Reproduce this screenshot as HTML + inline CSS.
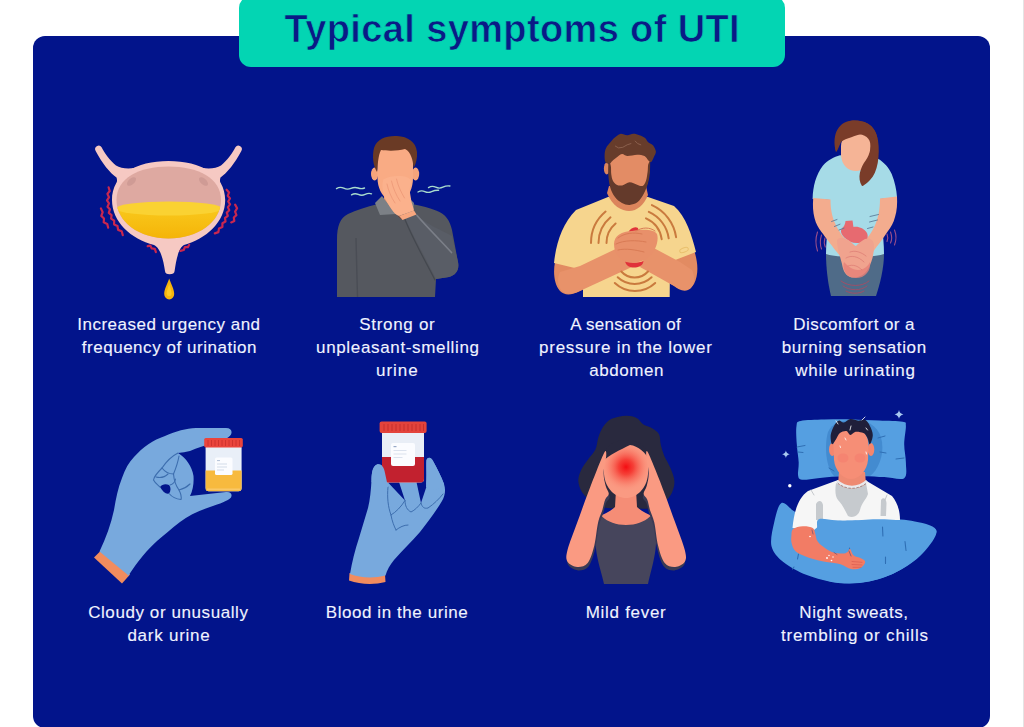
<!DOCTYPE html>
<html>
<head>
<meta charset="utf-8">
<title>Typical symptoms of UTI</title>
<style>
  html, body { margin: 0; padding: 0; }
  body {
    width: 1024px; height: 727px; overflow: hidden; position: relative;
    background: #ffffff;
    font-family: "Liberation Sans", sans-serif;
  }
  .edge { position: absolute; left: 1022.6px; top: 0; width: 1.4px; height: 727px; background: #e4e4e4; }
  .panel {
    position: absolute; left: 33.3px; top: 35.5px; width: 956.5px; height: 692.5px;
    background: #02148b; border-radius: 12px;
  }
  .banner {
    position: absolute; left: 238.5px; top: -4px; width: 546.5px; height: 71px;
    background: #03d5b3; border-radius: 12px;
  }
  .title {
    position: absolute; left: 238px; top: 7px; width: 547px; text-align: center;
    font-weight: bold; font-size: 38px; line-height: 44px; color: #0a1a86;
    -webkit-text-stroke: 0.7px #03d5b3;
    white-space: nowrap;
  }
  .title span { display: inline-block; transform-origin: 50% 50%; }
  .cap {
    position: absolute; width: 230px; text-align: center; color: #f0f3ff;
    font-size: 17px; line-height: 23px; white-space: nowrap;
    -webkit-text-stroke: 0.12px #f0f3ff;
  }
  .cap span { display: inline-block; }
  svg.art { position: absolute; left: 0; top: 0; }
</style>
</head>
<body>
<div class="edge"></div>
<div class="panel"></div>
<div class="banner"></div>
<div class="title"><span id="ttl" style="letter-spacing:0.375px;margin-right:-0.375px;position:relative;left:0.55px">Typical symptoms of UTI</span></div>

<!-- ART -->
<svg class="art" width="1024" height="727" viewBox="0 0 1024 727">

<!-- ===== 1. Bladder ===== -->
<g id="bladder">
  <defs>
    <clipPath id="bl-in"><path d="M116.500,200 C116.500,178 139,166.500 168.500,166.500 C198,166.500 221,178 221,200 C221,222 198,238.500 168.500,238.500 C139,238.500 116.500,222 116.500,200 Z"/></clipPath>
    <linearGradient id="bl-ur" x1="0" y1="0" x2="0" y2="1"><stop offset="0" stop-color="#f9c81c"/><stop offset="1" stop-color="#f3ae02"/></linearGradient>
  </defs>
  <!-- ureters -->
  <path d="M101.600,147.300 C104,152 110,161 116,165.500 C122,169 132,170 142,165.500 L150,180 L113.500,193 C116,186 118,181 116.500,177.500 C110,173 102,163 95.800,151.200 A3.300,3.300 0 0 1 101.600,147.300 Z" fill="#f6c9c3"/>
  <path d="M235.400,147.300 C233,152 227,161 221,165.500 C215,169 205,170 195,165.500 L187,180 L223.500,193 C221,186 219,181 220.500,177.500 C227,173 235,163 241.200,151.200 A3.300,3.300 0 0 0 235.400,147.300 Z" fill="#f6c9c3"/>
  <!-- body -->
  <path d="M112,200 C112,175 136,161 168.500,161 C201,161 225.200,175 225.200,200 C225.200,222 206,239 184,245 C178,248 176,262 174.600,271 Q174.300,274.200 169.600,274.200 Q165.200,274.200 165,271 C163.600,262 161,248 154,245 C131,239 112,222 112,200 Z" fill="#f6c9c3"/>
  <path d="M116.500,200 C116.500,178 139,166.500 168.500,166.500 C198,166.500 221,178 221,200 C221,222 198,238.500 168.500,238.500 C139,238.500 116.500,222 116.500,200 Z" fill="#dea9a1"/>
  <ellipse cx="131.500" cy="181.500" rx="5.500" ry="2.900" fill="#cf9b95" transform="rotate(-42 131.500 181.500)"/>
  <ellipse cx="203.500" cy="181.500" rx="5.500" ry="2.900" fill="#cf9b95" transform="rotate(42 203.500 181.500)"/>
  <g clip-path="url(#bl-in)">
    <rect x="110" y="208" width="120" height="40" fill="url(#bl-ur)"/>
    <ellipse cx="169" cy="208.500" rx="53" ry="7" fill="#fad232"/>
  </g>
  <!-- drop -->
  <path d="M169.200,278.500 C171,284 174.200,289 174.200,294 A5,5.400 0 0 1 164.200,294 C164.200,289 167.400,284 169.200,278.500 Z" fill="#f6b40c"/>
  <path d="M169.200,284 C170,287 171.600,291 171.600,294 A2.600,3 0 0 1 166.600,294 C166.600,291 168.400,287 169.200,284 Z" fill="#ffcf2a" opacity=".8"/>
  <!-- squiggles -->
  <g fill="none" stroke="#c9274f" stroke-width="2.200" stroke-linecap="round" stroke-linejoin="round">
    <path d="M108.6,187.3 L109.7,191.0 L107.4,193.9 L109.0,197.3 L107.0,200.4 L109.0,203.4 L107.5,206.7 L109.9,209.3 L108.8,212.8 L111.6,215.1 L111.1,218.7 L114.2,220.7 L114.1,224.4 L117.5,226.0 L118.1,229.9 L121.7,231.3 L122.8,235.2"/>
    <path d="M100.9,208.4 L102.7,212.2 L101.3,215.9 L104.0,218.5 L103.7,222.3 L107.2,223.9 L108.2,227.7"/>
    <path d="M226.6,189.7 L229.1,192.4 L227.8,195.7 L230.0,198.5 L228.2,201.5 L230.1,204.4 L227.9,207.1 L229.3,210.3 L226.8,212.6 L227.8,215.9 L225.0,218.0 L225.5,221.5 L222.4,223.2 L222.4,226.9 L219.0,228.4 L218.4,232.1 L214.8,233.4"/>
    <path d="M235.1,204.6 L237.1,208.2 L235.1,211.6 L236.4,215.1 L233.8,217.5 L234.3,221.0 L231.2,222.4"/>
    <path d="M147.7,246.2 L150.4,245.7 L151.7,248.4 L154.8,248.8 L155.9,252.1"/>
    <path d="M189.2,244.8 L187.9,247.1 L184.9,247.1 L183.7,250.0 L180.4,250.9"/>
  </g>
</g>

<!-- ===== 2. Man covering nose ===== -->
<g id="smell">
  <!-- sweater body -->
  <path d="M337,297 L337,240 C337,226 340,218 348,214 C356,210 366,207 378,204 L412,204 C422,206 430,208 436,210.5 C446,214 450,221 452,230 L458,262 C459.5,270 456,275 449,277 L436,279 L435,297 Z" fill="#55585f"/>
  <!-- arm shading -->
  <path d="M404,216 C414,238 428,262 436,279 L449,277 C456,275 459.5,270 458,262 L452,236 C446,232 420,222 416,213 Z" fill="#595d66"/>
  <path d="M417,215.500 C427,227 441,241 451.500,252.500" fill="none" stroke="#7b7f88" stroke-width="1.700" stroke-linecap="round"/>
  <path d="M404,217 C412,238 426,262 435,280" fill="none" stroke="#44484f" stroke-width="1.2" stroke-linecap="round"/>
  <path d="M356,238 C356.500,258 357,280 357.500,297" fill="none" stroke="#4a4d55" stroke-width="1.400"/>
  <!-- neck -->
  <path d="M384,192 L406,192 L408,212 L384,212 Z" fill="#ee9a70"/>
  <!-- collar -->
  <path d="M375,203 L382,196 L396,214 L380,215 Z" fill="#7c8086"/>
  <path d="M414,203 L408,197 L399,214 L413,213 Z" fill="#7c8086"/>
  <!-- ears -->
  <ellipse cx="374.6" cy="174" rx="3.6" ry="6.4" fill="#f6a47c"/>
  <ellipse cx="415.6" cy="174" rx="3.6" ry="6.4" fill="#f6a47c"/>
  <!-- face -->
  <path d="M377,156 C377,146 385,143 395,143 C405,143 413,146 413,156 L413,178 C413,188 409,196 404,200 L387,200 C382,195 377.500,188 377.500,178 Z" fill="#f9ab84"/>
  <!-- hair -->
  <path d="M377,172 C373,166 372,156 374,148 C377,139 386,135.5 397,136 C408,136.5 416,142 417,152 C417.5,158 416,164 413.5,168 C413,160 411,152 405,149 C398,151 388,151 381,150 C378,156 378,164 377,172 Z" fill="#6a3a25"/>
  <!-- hand -->
  <path d="M383.300,179.500 C388,176.500 395,175.500 401,176 C406,176.500 410,178 411.500,181 C411,184 409.700,187 409.700,190 C410,194 411,198 411.500,202 C412.500,205 413.500,208 414,210.500 L399,216 C396,215 394,213 392,210 C388.500,205 385.500,200 384,195.500 C382.500,190 381.800,184 383.300,179.500 Z" fill="#fbb18c"/>
  <path d="M399,216 L414,210.500 L416.500,214.500 L402.500,220 Z" fill="#f8a77f"/>
  <path d="M398.500,216.200 L401,218.800" stroke="#7a3a2a" stroke-width="1" stroke-linecap="round" fill="none" opacity=".7"/>
  <g fill="none" stroke="#f09d7b" stroke-width="1" stroke-linecap="round">
    <path d="M387,184 C388.500,191 391,197 395,203"/>
    <path d="M391.500,181 C393,188 396,195 400,201"/>
    <path d="M396.500,179 C398,186 401,192 404.500,198"/>
  </g>
  <!-- smell lines -->
  <g fill="none" stroke="#a9dccd" stroke-width="1.4" stroke-linecap="round">
    <path d="M336.500,188.600 q3.600,-2.200 7.200,-0.400 t7.200,0.200 t7.200,-0.400 t6.400,0"/>
    <path d="M351.500,194.800 q3.400,-2 6.800,-0.400 t6.800,0 t6.400,-0.600"/>
    <path d="M418,192 q3.400,-2 6.800,-0.400 t6.800,0 t7,-1.400"/>
    <path d="M428.500,187.600 q3.600,-2.200 7.200,-0.400 t7.200,0 t7,-1.200"/>
  </g>
</g>

<!-- ===== 3. Bearded man, lower abdomen pressure ===== -->
<g id="pressure">
  <!-- arms behind shirt -->
  <path d="M555,262 C553,272 554,284 560,291 C565,296 572,295 580,291 L632,266 L622,244 L584,262 L583,268 Z" fill="#e28b62"/>
  <path d="M694,250 C698,262 699,274 694,284 C690,291 682,291 676,287 L640,266 L650,244 L676,258 Z" fill="#e28b62"/>
  <!-- shirt -->
  <path d="M583,297 L583,270 L554,263 C556,244 562,224 576,210 L608,197 L648,197 L674,206 C686,216 692,236 696,252 L670,262 L669.7,297 Z" fill="#f6d58e"/>
  <!-- neck -->
  <path d="M607,193 C612,206 622,211 629,211 C637,211 644,205 648,195 L646,186 L609,186 Z" fill="#dc855c"/>
  <!-- forearms front -->
  <path d="M560,272 C556,280 558,290 565,293 C570,295 576,293 582,290 L634,266 L624,245 L580,266 Z" fill="#e8926a"/>
  <path d="M692,270 C696,278 694,288 688,290 C683,292 678,289 674,286 L640,267 L650,246 L680,262 Z" fill="#e8926a"/>
  <!-- red spots -->
  <path d="M628,233 C630,228 635,226 638,228 C639,231 636,234 633,236 Z" fill="#e0323a"/>
  <path d="M625,261 C630,263 638,263 643.500,261 C643,266 638,267.500 634,267.500 C630,267.500 626,266 625,261 Z" fill="#e0323a"/>
  <!-- hands -->
  <path d="M614,244 C614,236 622,231 632,231 C642,229 654,229 657,234 C659,240 656,250 650,256 C644,262 634,264 626,262 C618,259 614,252 614,244 Z" fill="#e8906a"/>
  <path d="M618,238 C624,233 634,232 642,234 M616,244 C624,240 636,240 646,242 M618,250 C626,248 636,250 644,252 M636,231 C642,227 650,227 655,231" fill="none" stroke="#d97b55" stroke-width="1" stroke-linecap="round"/>
  <!-- arcs -->
  <g fill="none" stroke="#c97a3e" stroke-width="2" stroke-linecap="round">
    <path d="M606.5,243.0 A25.5,25.5 0 0 1 615.6,223.5"/>
    <path d="M598.5,243.0 A33.5,33.5 0 0 1 610.5,217.3"/>
    <path d="M591.0,243.0 A41,41 0 0 1 605.6,211.6"/>
    <path d="M646.0,218.3 A27,27 0 0 1 661.7,239.2"/>
    <path d="M648.8,211.9 A34,34 0 0 1 668.7,238.3"/>
    <path d="M651.9,205.1 A41.5,41.5 0 0 1 676.1,237.2"/>
    <path d="M621.3,271.5 A17.9,17.9 0 0 0 648.0,271.5"/>
    <path d="M617.7,277.3 A24.8,24.8 0 0 0 651.6,277.3"/>
    <path d="M614.8,283.0 A29.5,29.5 0 0 0 655.2,283.0"/>
  </g>
  <!-- ear -->
  <ellipse cx="606.700" cy="168.500" rx="2.800" ry="6" fill="#dc855e"/>
  <!-- face -->
  <path d="M611.1,162.2 C611.3,158.5 611.3,156.7 612.9,155.3 C614.6,153.9 618.0,153.8 621.0,153.7 C624.0,153.6 627.4,154.6 630.9,154.7 C634.4,154.9 639.1,154.1 642.0,154.7 C644.9,155.3 647.0,156.4 648.2,158.4 C649.4,160.5 649.1,164.0 648.9,167.1 C648.8,170.2 648.2,173.7 647.6,177.0 C646.9,180.3 646.4,184.9 645.1,186.9 C643.8,189.0 642.1,189.4 639.5,189.4 C637.0,189.4 632.9,186.9 629.6,186.9 C626.3,186.9 622.3,189.6 619.7,189.4 C617.1,189.2 615.5,187.7 614.1,185.7 C612.8,183.6 612.2,180.9 611.7,177.0 C611.2,173.1 610.8,165.8 611.1,162.2 Z" fill="#e38c65" stroke="#e38c65" stroke-width="2"/>
  <!-- beard -->
  <path d="M608.6,162.2 C609.0,160.7 610.4,163.8 610.8,165.9 C611.3,167.9 610.9,172.1 611.3,174.5 C611.7,177.0 612.0,179.0 612.9,180.7 C613.8,182.4 615.1,183.9 616.6,184.7 C618.2,185.5 620.0,185.8 622.2,185.4 C624.4,185.0 627.2,182.3 629.6,182.2 C632.1,182.1 634.9,184.1 637.1,184.7 C639.2,185.3 641.1,186.6 642.6,185.9 C644.1,185.3 645.1,183.0 646.0,180.7 C646.8,178.4 647.2,174.7 647.6,172.1 C648.0,169.4 647.8,166.3 648.2,164.6 C648.6,163.0 649.8,160.5 650.1,162.2 C650.3,163.8 650.1,170.8 649.7,174.5 C649.3,178.3 648.6,181.1 647.6,184.4 C646.6,187.7 645.1,191.4 643.5,194.3 C641.8,197.3 640.0,200.3 637.7,202.0 C635.4,203.8 632.2,204.7 629.6,204.9 C627.0,205.0 624.4,204.4 622.0,203.0 C619.5,201.7 616.7,199.5 614.8,196.8 C612.8,194.1 611.1,190.6 610.1,186.9 C609.0,183.2 608.6,178.7 608.3,174.5 C608.1,170.4 608.2,163.6 608.6,162.2 Z" fill="#643a2b"/>
  <!-- hair -->
  <path d="M605.5,162.2 C604.6,160.7 604.5,157.1 604.6,154.7 C604.7,152.3 605.1,150.0 606.1,147.9 C607.1,145.8 609.0,144.1 610.4,142.3 C611.9,140.6 613.1,138.8 614.8,137.4 C616.4,136.0 618.3,134.3 620.3,133.9 C622.4,133.5 625.0,135.2 627.2,135.2 C629.3,135.1 631.3,133.7 633.3,133.7 C635.4,133.7 637.6,134.4 639.5,135.2 C641.5,135.9 643.7,136.8 645.1,138.0 C646.6,139.2 646.9,141.1 648.2,142.3 C649.5,143.6 651.9,143.9 653.2,145.4 C654.4,147.0 655.8,149.7 655.9,151.6 C656.0,153.6 654.6,155.4 653.8,157.2 C653.0,159.0 651.9,161.6 650.9,162.2 C650.0,162.7 649.3,161.3 648.2,160.3 C647.1,159.3 646.3,156.9 644.5,156.0 C642.6,155.0 639.9,154.7 637.1,154.7 C634.2,154.7 629.6,156.1 627.2,156.0 C624.7,155.9 623.8,153.9 622.2,154.1 C620.5,154.3 618.9,155.8 617.2,157.0 C615.6,158.1 613.5,159.8 612.3,160.9 C611.1,162.0 610.9,163.2 609.8,163.4 C608.7,163.6 606.3,163.6 605.5,162.2 Z" fill="#673c2b"/>
  <path d="M615.4,146.1 L618.5,147.9 L622.8,147.3 L627.2,144.8 L630.9,143.6 M635.2,141.1 L637.7,143.6 L640.8,144.8" fill="none" stroke="#8f6350" stroke-width="0.900" stroke-linecap="round" stroke-linejoin="round"/>
  <!-- sleeve ring detail -->
  <ellipse cx="684" cy="250" rx="4.5" ry="2.2" fill="none" stroke="#e9c06f" stroke-width="1" transform="rotate(-20 684 250)"/>
</g>

<!-- ===== 4. Woman, discomfort ===== -->
<g id="burning">
  <!-- jeans -->
  <path d="M826,254 L884,254 C884,268 880,284 876,296 L831,296 C828,284 826,268 826,254 Z" fill="#4f6b88"/>
  <!-- hair back -->
  <path d="M836,152 C832,138 836,122 852,120.5 C868,119.5 877,128 878,142 C879,156 877,170 870,178 C866,183 863,186 862,186 C858,178 860,168 864,160 L868,140 L844,134 Z" fill="#7a3c29"/>
  <!-- neck -->
  <path d="M848,160 L864,160 L866,178 L846,178 Z" fill="#eba486"/>
  <!-- shirt -->
  <path d="M812.600,199 C813,186 816,175 823,165.600 C828,160 834,157 840,155.300 L878,158.800 C884,162 889,168 891.700,174 C895,182 896.500,190 897,197 L897,198 L880,199 C880,214 884,236 884,254 C874,258 836,258 826,254 C826,236 830,214 830,200 Z" fill="#a6dbe7"/>
  <!-- arms (front) -->
  <path d="M813.200,198 C812.600,206 813,212 814.500,218 C816,224 818.500,228 821.500,232 C826,238 832,246 840,256 L850,244 C846,240 843,237 841,234 C838,229 836,226 834.500,222 C832,216 830.500,209 830.500,199.500 Z" fill="#f3ac8e"/>
  <path d="M897,196.500 C897.400,204 897,211 895,217 C893.500,223 891,227 888,231 C884,237 879,244 872,253 L861,244 C865,240 867.500,238 869.500,235 C872,231 874,228 875.500,224 C878,218 880,210 880,198.500 Z" fill="#f3ac8e"/>
  <!-- bladder -->
  <path d="M845.500,221 L852.500,220.500 C853,223 853,225 853.500,227 C858,226 864,228 867,233 C869.500,239 865,243.500 857,243 C852,243 848,241 845,238 C842,235 840,232 841.500,229 C843,227 845,226 845.500,221 Z" fill="#e76a70"/>
  <!-- hands -->
  <path d="M837,240 C840,236 846,238 851,242 C853,244 855,246 856,246 C858,244 861,241 865,239 C870,237 874,240 874,246 C874,254 872,262 868,269 C864,276 856,279 850,277 C845,275 843,270 842,264 C840,256 837,248 837,240 Z" fill="#f0a38e"/>
  <path d="M844,262 C848,266 852,270 858,270 C864,270 868,266 870,262 C871,268 868,274 862,277 C856,279 848,278 845,272 C843,268 843,265 844,262 Z" fill="#e67f78" opacity=".8"/>
  <path d="M846,258 C851,255 858,256 864,262 M850,252 C855,250 861,252 866,256 M848,266 C853,264 858,266 862,270" fill="none" stroke="#d97670" stroke-width="0.800" stroke-linecap="round" opacity=".8"/>
  <!-- red arcs bottom -->
  <g fill="none" stroke="#b8465e" stroke-width="1" stroke-linecap="round" opacity=".75">
    <path d="M841,281 C849,287 862,287 869,281"/>
    <path d="M843,286 C850,291 861,291 867,286"/>
    <path d="M846,291 C851,294 859,294 864,291"/>
  </g>
  <!-- side pain arcs -->
  <g fill="none" stroke="#9a4f8a" stroke-width="1.100" stroke-linecap="round">
    <path d="M817.500,232 C815.500,238 815.500,245 817.500,251"/>
    <path d="M821.500,235 C820,240 820,245 821.500,249"/>
    <path d="M825,238 C824,241 824,244 825.300,247"/>
    <path d="M894.500,230 C896.500,235 896.500,240 894.500,245"/>
    <path d="M890.500,232 C892,236 892,240 890.500,243"/>
    <path d="M887,234 C888,236.500 888,239 887,241.500"/>
  </g>
  <!-- motion lines -->
  <g fill="none" stroke="#5e7f9c" stroke-width="1" stroke-linecap="round" opacity=".9">
    <path d="M831.600,221.500 L837,219.500"/>
    <path d="M834.400,226.500 L840,224.200"/>
    <path d="M839,230 L844,228.200"/>
    <path d="M870,216.500 L878.500,214.500"/>
    <path d="M869.500,222 L877.500,220"/>
    <path d="M867.500,228.500 L873,227"/>
  </g>
  <!-- face -->
  <path d="M841,146 C841,138 847,134 856,134 C865,134 870.5,138 870.5,146 L870,156 C869,165 863,171 856,171 C848,171 842,165 841,156 Z" fill="#f5b496"/>
  <!-- hair front -->
  <path d="M836,152 C833,138 838,122 853,120.5 C868,119.5 878,128 878,144 C876,138 870,134 864,133 C856,136 846,138 841,142 C839,146 838,150 836,152 Z" fill="#7a3c29"/>
  <path d="M878,140 C880,156 878,172 870,180 C866,184 863,186 862,186 C857,178 860,168 866,160 C870,154 872,146 870,138 Z" fill="#7a3c29"/>
</g>

<!-- ===== 5. Gloved hand with urine cup (cloudy) ===== -->
<g id="cloudy">
  <!-- cuff skin -->
  <path d="M94,557.5 L101.5,550 L130,574.5 L122,583.5 Z" fill="#f28c5e"/>
  <!-- glove -->
  <path d="M99.5,551.5 C106,538 111,524 114,510 C116,498 118,488 122,478 C125,469 129,462 134,457 C143,447 153,440 165,436 C176,431 186,428.5 196,428 L226,428 C231,428 232.5,431 231,434.5 C229,438 222,441 214,443 C205,445 197,448 190,451 C186,452 182,452.5 178,453 C186,458 192,466 193.5,476 C194,483 193,490 190,496 L226,492 C231,491.5 232.5,494.5 231,497.5 C228,501 220,503.500 210,507 C198,511 188,516 180,522 C171,529 164,535 157,541 C148,549 138,561 128.500,575.500 Z" fill="#78a9dd"/>
  <!-- hole -->
  <path d="M160,487 C162,484 166,483.500 169,485 C171,487 171,491 169,493.500 C166,494.500 163,492 160,487 Z" fill="#02148b"/>
  <!-- finger lines -->
  <g fill="none" stroke="#3d6eae" stroke-width="1.1" stroke-linecap="round" stroke-linejoin="round">
    <path d="M178,453 C172,456 166,462 162,468 C158,472 154,476 153.500,480 C155,483 158,485 160,487"/>
    <path d="M162,468 C165,472 169,474 173.500,474 C176,468 178,462 179,456"/>
    <path d="M173.500,474 C174,480 176,486 179,490 C183,489 187,487 190,484"/>
    <path d="M156,477 C160,478 165,477 168,474"/>
    <path d="M169,493.500 C172,497 176,499 181,499.500 C182,496 180,492 179,490"/>
    <path d="M170,485 C173,484 175,482 175.500,479"/>
  </g>
  <!-- cup -->
  <rect x="205.600" y="445" width="36" height="46.200" rx="3.200" fill="#e9eff8"/>
  <path d="M205.600,470.400 L241.600,470.400 L241.600,488 Q241.600,491.200 238.400,491.200 L208.800,491.200 Q205.600,491.200 205.600,488 Z" fill="#f7ba3e"/>
  <rect x="207" y="488.500" width="33" height="1.600" fill="#f9cf7a" opacity=".7"/>
  <rect x="215" y="457.500" width="17.500" height="17.500" rx="1.600" fill="#fbfcff"/>
  <rect x="217" y="460" width="3" height="1.100" fill="#b9c6da"/>
  <rect x="217" y="463.500" width="10" height="1" fill="#d3dcea"/>
  <rect x="217" y="466.500" width="10" height="1" fill="#d3dcea"/>
  <rect x="217" y="469.500" width="7" height="1" fill="#d3dcea"/>
  <rect x="204.200" y="438" width="38.600" height="9.400" rx="1.600" fill="#ea443c"/>
  <g stroke="#c92f2b" stroke-width="0.800">
    <path d="M208,440 v6 M211.500,440 v6 M215,440 v6 M218.500,440 v6 M222,440 v6 M225.500,440 v6 M229,440 v6 M232.500,440 v6 M236,440 v6 M239.500,440 v6"/>
  </g>
</g>

<!-- ===== 6. Gloved hand with blood sample ===== -->
<g id="blood">
  <!-- cuff -->
  <path d="M349.500,573 C360,577 374,577.500 385,574.500 L385.500,582 C374,585 360,584.500 349,580.500 Z" fill="#f28c5e"/>
  <!-- glove -->
  <path d="M350,574 C352,562 355,550 359,538 C362,528 365,518 368,508 C370,500 371,490 371.500,480 C371.500,472 373,466 377,464.500 C381,463.500 384,467 385,473 L388.500,483 L405,500.500 L399,482 L416.500,482 L421,503 L428,482 L426,486 C427,476 426,466 426.500,460 C428,456.500 431,457.500 433,461 C437,468 441,476 444,484 C446,490 445,496 442,501 C436,511 428,522 420,532 C412,541 402,551 394,560 C390,565 387,570 385.500,575.500 C374,578.500 360,578 350,574 Z" fill="#78a9dd"/>
  <!-- finger lines -->
  <g fill="none" stroke="#3d6eae" stroke-width="1" stroke-linecap="round" stroke-linejoin="round">
    <path d="M388,487 C387,497 388,507 391,515 C392,521 394,526 396,530"/>
    <path d="M391,515 C396,512 401,507 405,500.500"/>
    <path d="M405,500.500 C405,506 407,510 411,512 C415,510 418,507 421,503"/>
    <path d="M421,503 C422,507 424,509 428,508 C434,504 439,499 443,494"/>
    <path d="M396,530 C400,527 404,525 408,525"/>
  </g>
  <!-- cup -->
  <rect x="382" y="430" width="42" height="52.500" rx="3.400" fill="#e9eef6"/>
  <path d="M382,457 L424,457 L424,479 Q424,482.500 420.600,482.500 L385.400,482.500 Q382,482.500 382,479 Z" fill="#c2212f"/>
    <rect x="391" y="443" width="24" height="23" rx="2" fill="#fbfcff"/>
  <rect x="393.500" y="446" width="3" height="1.200" fill="#98a8c6"/>
  <rect x="393.500" y="450" width="13" height="1" fill="#dbe2ee"/>
  <rect x="393.500" y="453.500" width="13" height="1" fill="#dbe2ee"/>
  <rect x="393.500" y="457" width="9" height="1" fill="#dbe2ee"/>
  <rect x="379.600" y="421.500" width="47" height="11.500" rx="2" fill="#e3433b"/>
  <g stroke="#c52d2a" stroke-width="0.900">
    <path d="M384,424 v7 M388,424 v7 M392,424 v7 M396,424 v7 M400,424 v7 M404,424 v7 M408,424 v7 M412,424 v7 M416,424 v7 M420,424 v7 M423.500,424 v7"/>
  </g>
  <!-- thumb & index tips over cup -->
  <path d="M371.500,482 C371.500,472 373,466 377,464.500 C381,463.500 384,467 385,473 L388,487 C382,488 376,486 371.500,482 Z" fill="#78a9dd"/>
  <path d="M426,487 C427,476 426,466 426.500,460 C428,456.500 431,457.500 433,461 C437,468 441,476 444,484 C440,490 432,492 426,487 Z" fill="#78a9dd"/>
</g>

<!-- ===== 7. Woman with fever ===== -->
<g id="fever">
  <defs>
    <clipPath id="fvclip"><path d="M603.500,462 C603.500,450 612,443 626,443 C640,443 648.500,450 648.500,462 L648,474 C647,488 637,498 626,498 C615,498 605,488 604,474 Z"/></clipPath>
    <radialGradient id="fv" cx="0.5" cy="0.5" r="0.5"><stop offset="0" stop-color="#f40d12"/><stop offset=".3" stop-color="#f5362f" stop-opacity=".9"/><stop offset=".65" stop-color="#f86a5a" stop-opacity=".5"/><stop offset="1" stop-color="#fb9e88" stop-opacity="0"/></radialGradient>
  </defs>
  <path d="M626.0,415.7 C630.1,415.6 633.7,416.4 636.6,417.9 C639.5,419.3 640.9,422.7 643.4,424.4 C645.9,426.0 649.1,426.2 651.7,427.9 C654.3,429.5 657.5,431.4 659.0,434.2 C660.5,437.0 659.9,441.3 660.8,444.8 C661.6,448.3 662.6,451.6 664.1,455.4 C665.7,459.2 668.5,463.2 670.2,467.5 C671.9,471.8 674.2,476.8 674.4,481.1 C674.7,485.4 673.4,489.7 671.7,493.2 C669.9,496.8 667.1,499.8 663.8,502.3 C660.5,504.8 656.2,507.3 651.7,508.4 C647.2,509.4 642.6,508.4 636.6,508.4 C630.5,508.4 621.4,508.6 615.4,508.4 C609.3,508.1 604.5,508.2 600.3,506.8 C596.0,505.5 592.7,502.6 589.7,500.0 C586.6,497.5 583.7,494.9 581.8,491.7 C579.9,488.6 578.5,484.6 578.3,481.1 C578.2,477.6 579.3,474.2 580.9,470.5 C582.5,466.9 585.7,462.7 588.2,459.2 C590.6,455.7 593.7,453.3 595.4,449.6 C597.1,446.0 597.1,441.1 598.4,437.2 C599.8,433.4 601.1,429.7 603.3,426.6 C605.5,423.6 607.8,420.6 611.6,418.8 C615.4,417.0 621.8,415.9 626.0,415.7 Z" fill="#29293e"/>
  <!-- neck / chest -->
  <path d="M616,490 L636,490 L637,507 C642,512 648,514 654,517 L652,530 L600,530 L598,517 C604,514 610,512 615,507 Z" fill="#f58d76"/>
  <!-- shirt -->
  <path d="M595,516 C598,515.500 600,515.800 602,516.500 C608,522 616,525 626,525 C636,525 644,522 650,516.500 C652,515.800 654,515.500 656.500,516 C657,528 656.500,540 655.600,549 C654,562 650,574 648,584 L604,584 C602,574 597.500,562 596,549 C595,540 594.500,528 595,516 Z" fill="#46455c"/>
  <!-- arm shadows -->
  <path d="M604.6,452.0 C603.1,454.4 599.6,463.3 596.8,470.3 C594.0,477.3 590.9,485.1 587.7,493.8 C584.4,502.5 580.6,513.2 577.2,522.6 C573.9,531.9 569.2,543.5 567.5,550.0 C565.9,556.5 565.9,558.9 567.5,561.7 C569.2,564.6 573.9,566.7 577.2,567.0 C580.6,567.2 584.8,566.5 587.7,563.0 C590.5,559.6 592.4,552.8 594.2,546.1 C595.9,539.3 596.7,528.7 598.1,522.6 C599.5,516.5 601.4,513.3 602.5,509.5 C603.7,505.7 604.1,502.2 605.2,499.6 C606.2,497.0 608.7,496.1 608.8,493.8 C608.9,491.6 606.5,489.5 605.7,486.0 C604.8,482.5 603.5,477.9 603.6,472.9 C603.7,467.9 606.0,459.4 606.2,455.9 C606.4,452.5 606.2,449.6 604.6,452.0 Z" fill="#3a3a54" transform="translate(0.800,3.400)"/>
  <path d="M647.7,452.0 C649.3,454.4 652.7,463.3 655.6,470.3 C658.4,477.3 661.5,485.1 664.7,493.8 C668.0,502.5 671.8,513.2 675.2,522.6 C678.5,531.9 683.2,543.5 684.8,550.0 C686.4,556.5 686.4,558.9 684.8,561.7 C683.2,564.6 678.5,566.7 675.2,567.0 C671.8,567.2 667.5,566.5 664.7,563.0 C661.9,559.6 659.9,552.8 658.2,546.1 C656.4,539.3 655.7,528.7 654.3,522.6 C652.9,516.5 651.0,513.3 649.8,509.5 C648.7,505.7 648.3,502.2 647.2,499.6 C646.2,497.0 643.6,496.1 643.6,493.8 C643.5,491.6 645.8,489.5 646.7,486.0 C647.6,482.5 648.9,477.9 648.8,472.9 C648.7,467.9 646.3,459.4 646.2,455.9 C646.0,452.5 646.2,449.6 647.7,452.0 Z" fill="#3a3a54" transform="translate(-0.800,3.400)"/>
  <!-- face -->
  <path d="M603.500,462 C603.500,450 612,443 626,443 C640,443 648.500,450 648.500,462 L648,474 C647,488 637,498 626,498 C615,498 605,488 604,474 Z" fill="#fa9a82"/>
  <circle cx="626" cy="467" r="25" fill="url(#fv)" clip-path="url(#fvclip)"/>
  <!-- fringe -->
  <path d="M602,462 C603,448 612,440 626,440 C640,440 649,448 650,462 C646,452 638,446 630,445 C620,450 610,454 602,462 Z" fill="#29293e"/>
  <!-- arms -->
  <path d="M604.6,452.0 C603.1,454.4 599.6,463.3 596.8,470.3 C594.0,477.3 590.9,485.1 587.7,493.8 C584.4,502.5 580.6,513.2 577.2,522.6 C573.9,531.9 569.2,543.5 567.5,550.0 C565.9,556.5 565.9,558.9 567.5,561.7 C569.2,564.6 573.9,566.7 577.2,567.0 C580.6,567.2 584.8,566.5 587.7,563.0 C590.5,559.6 592.4,552.8 594.2,546.1 C595.9,539.3 596.7,528.7 598.1,522.6 C599.5,516.5 601.4,513.3 602.5,509.5 C603.7,505.7 604.1,502.2 605.2,499.6 C606.2,497.0 608.7,496.1 608.8,493.8 C608.9,491.6 606.5,489.5 605.7,486.0 C604.8,482.5 603.5,477.9 603.6,472.9 C603.7,467.9 606.0,459.4 606.2,455.9 C606.4,452.5 606.2,449.6 604.6,452.0 Z" fill="#fa9a82"/>
  <path d="M647.7,452.0 C649.3,454.4 652.7,463.3 655.6,470.3 C658.4,477.3 661.5,485.1 664.7,493.8 C668.0,502.5 671.8,513.2 675.2,522.6 C678.5,531.9 683.2,543.5 684.8,550.0 C686.4,556.5 686.4,558.9 684.8,561.7 C683.2,564.6 678.5,566.7 675.2,567.0 C671.8,567.2 667.5,566.5 664.7,563.0 C661.9,559.6 659.9,552.8 658.2,546.1 C656.4,539.3 655.7,528.7 654.3,522.6 C652.9,516.5 651.0,513.3 649.8,509.5 C648.7,505.7 648.3,502.2 647.2,499.6 C646.2,497.0 643.6,496.1 643.6,493.8 C643.5,491.6 645.8,489.5 646.7,486.0 C647.6,482.5 648.9,477.9 648.8,472.9 C648.7,467.9 646.3,459.4 646.2,455.9 C646.0,452.5 646.2,449.6 647.7,452.0 Z" fill="#fa9a82"/>
</g>

<!-- ===== 8. Night sweats ===== -->
<g id="night">
  <path d="M800.7,420.9 C805.3,419.9 815.9,419.9 824.2,419.6 C832.5,419.4 841.2,419.2 850.3,419.4 C859.5,419.5 870.4,420.0 879.1,420.4 C887.8,420.8 898.1,420.8 902.6,421.7 C907.0,422.6 905.6,422.2 905.9,425.9 C906.1,429.6 904.2,438.1 904.2,444.2 C904.2,450.3 905.9,456.8 905.9,462.5 C905.9,468.1 907.7,475.7 904.2,478.2 C900.6,480.6 891.1,477.4 884.3,477.1 C877.5,476.8 871.2,476.3 863.4,476.2 C855.6,476.1 844.9,476.3 837.3,476.6 C829.6,476.9 823.5,477.6 817.7,478.2 C811.8,478.7 805.3,480.2 802.0,479.7 C798.7,479.3 798.6,478.4 798.1,475.6 C797.5,472.7 798.9,467.7 798.7,462.5 C798.5,457.3 797.1,450.3 796.8,444.2 C796.4,438.1 795.8,429.8 796.5,425.9 C797.2,422.0 796.1,422.0 800.7,420.9 Z" fill="#559fe1"/>
  <path d="M828,432 C832,422 846,419 858,420 C870,421 880,428 882,442 C884,456 878,470 870,476 L834,476 C826,468 824,446 828,432 Z" fill="#3f86cc" opacity=".8"/>
  <g stroke="#2f6fb4" stroke-width="1" stroke-linecap="round" fill="none">
    <path d="M797,447 l8,-1.500 M798,452 l5,0.500 M896,459 l8,-1 M878,438 l7,-2 M880,452 l6,1 M829,468 l5,3"/>
  </g>
  <!-- blanket back -->
  <path d="M781.2,503.2 C784.5,501.2 789.5,508.5 793.7,511.0 C798.0,513.5 801.6,516.7 806.8,518.1 C812.0,519.4 817.2,518.9 825.1,519.1 C832.9,519.3 844.2,519.2 853.8,519.1 C863.4,519.1 873.0,518.6 882.6,518.9 C892.1,519.1 902.4,518.9 911.3,520.7 C920.2,522.5 933.9,524.7 936.1,529.8 C938.3,535.0 930.2,544.9 924.4,551.5 C918.5,558.2 910.0,564.8 900.8,569.8 C891.7,574.8 879.9,579.4 869.5,581.6 C859.0,583.7 848.6,584.0 838.1,582.9 C827.7,581.8 815.9,578.5 806.8,575.0 C797.7,571.5 789.2,566.8 783.3,562.0 C777.4,557.2 773.1,552.8 771.5,546.3 C770.0,539.8 772.5,530.0 774.1,522.8 C775.8,515.6 777.9,505.1 781.2,503.2 Z" fill="#559fe1"/>
  <!-- shirt -->
  <path d="M792.500,528 C794,512 798,498 808,491 L838,480 L865,480 L892,496 C897,502 900,510 900,520 L825,521 L814,530 Z" fill="#f6f6f6"/>
  <!-- sweat patches -->
  <path d="M836,483 C846,490 858,490 866,483 L868,494 C866,500 862,502 860,510 C858,517 852,518 848,516 C845,510 842,504 838,500 C835,496 835,490 836,483 Z" fill="#c6cace"/>
  <path d="M816,504 C818,500 822,500 823,505 L823,520 L816,520 Z" fill="#c6cace"/>
  <path d="M881,500 C883,497 886,498 886.500,503 L886,516 L880.500,516 Z" fill="#c6cace"/>
  <path d="M811,490 l3,5 M887,495 l-2,5" stroke="#b9bdc2" stroke-width=".8" fill="none" stroke-linecap="round"/>
  <!-- neck -->
  <path d="M839,472 L865,472 L866,484 C858,490 846,490 838,484 Z" fill="#ee8a72"/>
  <path d="M837,481 C846,489 858,489 867,481" fill="none" stroke="#e9e9ec" stroke-width="2.600"/>
  <path d="M837.500,483 C846,490 858,490 866.500,483" fill="none" stroke="#3a3f4a" stroke-width=".7" stroke-dasharray="2.500 1.500" opacity=".6"/>
  <!-- blanket front -->
  <path d="M818.8,519.2 C821.8,517.8 830.2,520.0 835.3,520.2 C840.4,520.5 842.3,520.8 849.4,520.6 C856.4,520.4 868.1,519.1 877.5,519.2 C886.9,519.2 898.0,519.9 905.6,520.9 C913.2,521.9 918.1,523.5 923.2,525.2 C928.3,526.8 935.5,527.6 936.4,530.8 C937.3,534.0 932.1,539.6 928.5,544.5 C924.8,549.4 920.6,555.3 914.4,560.3 C908.3,565.3 900.1,570.7 891.6,574.4 C883.1,578.0 872.8,581.0 863.4,582.3 C854.1,583.6 844.1,583.6 835.3,582.3 C826.5,581.0 817.1,577.2 810.7,574.4 C804.3,571.6 799.9,569.1 796.6,565.6 C793.4,562.1 790.8,557.1 791.4,553.3 C792.0,549.5 796.3,545.1 800.2,542.7 C804.0,540.4 811.8,541.6 814.6,539.2 C817.4,536.9 816.3,532.0 817.0,528.7 C817.7,525.3 815.7,520.6 818.8,519.2 Z" fill="#559fe1"/>
  <g stroke="#2f6fb4" stroke-width="1.100" stroke-linecap="round" fill="none">
    <path d="M882.500,527 l0.400,9 M905,541.500 l1,9 M885.500,557 l0,6.500 M849.500,548 l0,3.500 M798.500,554 l-1,5 M794,567 l-1.500,2"/>
  </g>
  <!-- arm -->
  <path d="M793.1,529.0 C791.2,530.7 791.6,533.6 791.4,536.1 C791.1,538.5 791.0,541.0 791.7,543.6 C792.5,546.2 792.9,549.2 795.8,551.5 C798.6,553.9 803.8,555.9 808.9,557.7 C814.1,559.4 821.2,561.0 826.5,562.1 C831.8,563.2 836.5,563.0 840.6,564.2 C844.7,565.4 847.8,568.5 851.1,569.1 C854.5,569.7 858.5,568.9 860.8,567.7 C863.1,566.5 865.2,563.3 865.2,561.7 C865.2,560.1 862.7,559.3 860.8,558.2 C858.9,557.1 855.6,556.9 853.8,555.4 C852.0,553.8 851.1,549.5 850.1,548.9 C849.1,548.3 848.9,551.1 847.6,551.9 C846.3,552.7 845.0,553.6 842.3,553.6 C839.7,553.6 835.0,553.0 831.8,551.9 C828.6,550.7 825.4,548.4 823.0,546.6 C820.6,544.8 818.7,543.1 817.4,541.0 C816.1,538.9 816.0,536.1 815.3,533.9 C814.5,531.8 814.9,529.3 812.8,528.0 C810.7,526.7 806.1,526.0 802.8,526.2 C799.5,526.4 795.0,527.4 793.1,529.0 Z" fill="#f27c65"/>
  <path d="M852,561.500 l10,0.800 M852,564.500 l10,0.500 M853,567.300 l8,0" stroke="#dd5f52" stroke-width=".800" fill="none" stroke-linecap="round"/>
  <path d="M849,551 l2,5 M834,552.500 l3,2 M812,530 l1,4" stroke="#2c3f7a" stroke-width=".700" fill="none" stroke-linecap="round" opacity=".7"/>
  <g fill="#ffffff"><circle cx="827" cy="558" r=".900"/><circle cx="831.500" cy="560.500" r=".800"/><circle cx="829" cy="555.500" r=".700"/><circle cx="833" cy="557" r=".700"/><circle cx="810" cy="536.500" r=".800"/></g>
  <!-- ears, face -->
  <ellipse cx="832.300" cy="449.500" rx="3.300" ry="6.500" fill="#f4866e"/>
  <ellipse cx="871" cy="449.500" rx="3.300" ry="6.500" fill="#f4866e"/>
  <path d="M833.500,446 C833.500,434 841,426 851,426 C861,426 868.500,434 868.500,446 L868,460 C867,471 859,479 851,479 C843,479 835,471 834,460 Z" fill="#f68e76"/>
  <ellipse cx="843" cy="458" rx="5.500" ry="4.500" fill="#f3746a" opacity=".35"/>
  <ellipse cx="860" cy="458" rx="5.500" ry="4.500" fill="#f3746a" opacity=".35"/>
  <path d="M832.0,444.2 C831.1,443.5 830.4,438.1 830.7,435.0 C831.1,432.0 832.7,428.3 834.0,425.9 C835.3,423.5 836.9,421.2 838.6,420.7 C840.2,420.1 841.8,422.9 843.8,422.6 C845.8,422.4 847.9,419.4 850.3,419.1 C852.7,418.8 855.8,420.6 858.2,420.7 C860.6,420.8 862.7,418.8 864.7,419.6 C866.7,420.5 868.6,423.3 869.9,425.9 C871.3,428.5 872.8,432.0 872.8,435.0 C872.8,438.1 870.8,443.8 869.9,444.2 C869.0,444.6 868.4,439.5 867.3,437.7 C866.2,435.8 865.4,434.1 863.4,433.1 C861.4,432.1 857.7,431.5 855.6,431.8 C853.4,432.1 851.8,435.2 850.3,435.0 C848.8,434.9 848.1,431.5 846.4,431.1 C844.7,430.8 841.6,431.8 839.9,433.1 C838.2,434.4 837.5,437.1 836.2,439.0 C834.9,440.8 832.9,444.8 832.0,444.2 Z" fill="#1f1f3a"/>
  <g stroke="#ffffff" stroke-width=".9" stroke-linecap="round" fill="none" opacity=".9">
    <path d="M851,426 l-1,4 M862,420 l3,-3 M838,424 l-2,-3 M866,428 l1.500,2 M845,438 l1,2 M866,452 l.5,2 M840,446 l.5,1.500"/>
  </g>
  <!-- sparkles -->
  <path d="M899.0,410.0 Q899.7,413.7 903.4,414.4 Q899.7,415.1 899.0,418.8 Q898.3,415.1 894.6,414.4 Q898.3,413.7 899.0,410.0 Z" fill="#a9caf0"/>
  <path d="M785.9,450.5 Q786.5,453.7 789.7,454.3 Q786.5,454.9 785.9,458.1 Q785.3,454.9 782.1,454.3 Q785.3,453.7 785.9,450.5 Z" fill="#a9caf0"/>
  <circle cx="789.800" cy="485.800" r="1.700" fill="#ffffff"/>
</g>
</svg>

<div class="cap" style="left:53px; top:313px;"><span id="c1a" style="letter-spacing:0.492px;margin-right:-0.492px;position:relative;left:0.70px">Increased urgency and</span><br><span id="c1b" style="letter-spacing:0.538px;margin-right:-0.538px;position:relative;left:1.10px">frequency of urination</span></div>
<div class="cap" style="left:282px; top:313px;"><span id="c2a" style="letter-spacing:0.683px;margin-right:-0.683px;position:relative;left:0.00px">Strong or</span><br><span id="c2b" style="letter-spacing:0.655px;margin-right:-0.655px;position:relative;left:0.55px">unpleasant-smelling</span><br><span id="c2c" style="letter-spacing:0.997px;margin-right:-0.997px;position:relative;left:-0.15px">urine</span></div>
<div class="cap" style="left:511px; top:313px;"><span id="c3a" style="letter-spacing:0.291px;margin-right:-0.291px;position:relative;left:-0.50px">A sensation of</span><br><span id="c3b" style="letter-spacing:0.759px;margin-right:-0.759px;position:relative;left:-0.50px">pressure in the lower</span><br><span id="c3c" style="letter-spacing:0.552px;margin-right:-0.552px;position:relative;left:0.25px">abdomen</span></div>
<div class="cap" style="left:739px; top:313px;"><span id="c4a" style="letter-spacing:0.425px;margin-right:-0.425px;position:relative;left:-0.05px">Discomfort or a</span><br><span id="c4b" style="letter-spacing:0.637px;margin-right:-0.637px;position:relative;left:-0.10px">burning sensation</span><br><span id="c4c" style="letter-spacing:0.779px;margin-right:-0.779px;position:relative;left:1.10px">while urinating</span></div>

<div class="cap" style="left:53px; top:601px;"><span id="c5a" style="letter-spacing:0.583px;margin-right:-0.583px;position:relative;left:0.05px">Cloudy or unusually</span><br><span id="c5b" style="letter-spacing:0.755px;margin-right:-0.755px;position:relative;left:0.60px">dark urine</span></div>
<div class="cap" style="left:282px; top:601px;"><span id="c6a" style="letter-spacing:0.569px;margin-right:-0.569px;position:relative;left:-0.25px">Blood in the urine</span></div>
<div class="cap" style="left:511px; top:601px;"><span id="c7a" style="letter-spacing:0.702px;margin-right:-0.702px;position:relative;left:-0.25px">Mild fever</span></div>
<div class="cap" style="left:739px; top:601px;"><span id="c8a" style="letter-spacing:0.563px;margin-right:-0.563px;position:relative;left:-0.30px">Night sweats,</span><br><span id="c8b" style="letter-spacing:0.819px;margin-right:-0.819px;position:relative;left:0.50px">trembling or chills</span></div>
</body>
</html>
